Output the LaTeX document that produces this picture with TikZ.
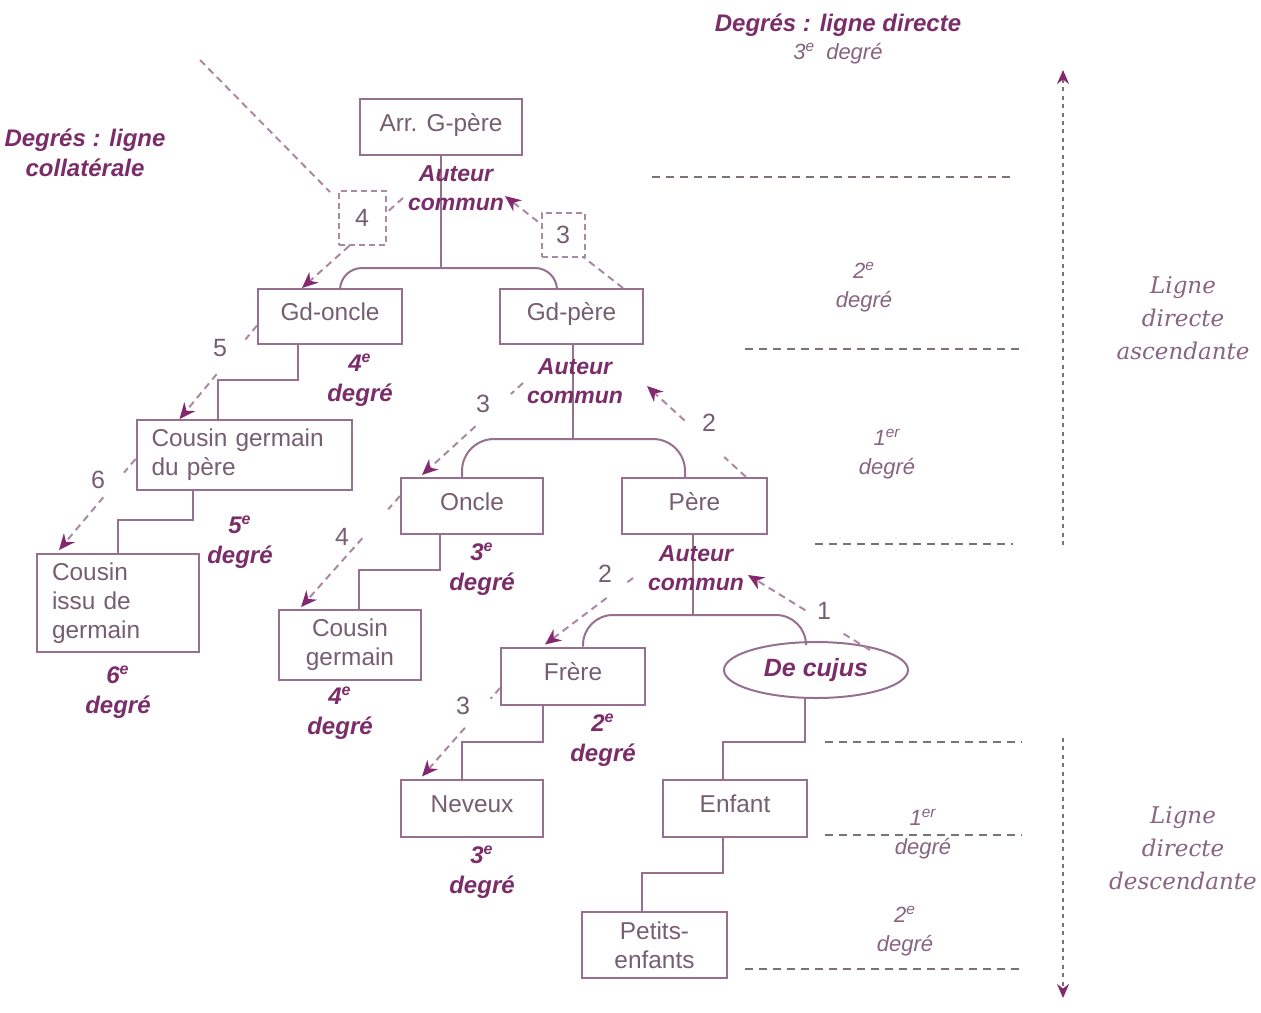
\documentclass[tikz,border=0pt]{standalone}
\usepackage{fontspec}
\setmainfont{Liberation Sans}
\newfontfamily\lignefont{DejaVu Serif}
\usetikzlibrary{arrows.meta,shapes.geometric,calc}
\definecolor{linecol}{RGB}{150,112,142}
\definecolor{txtcol}{RGB}{118,94,114}
\definecolor{labcol}{RGB}{122,45,104}
\definecolor{dashcol}{RGB}{168,138,162}
\definecolor{tipcol}{RGB}{132,40,112}
\definecolor{hdcol}{RGB}{125,112,125}
\definecolor{lightcol}{RGB}{135,100,128}
\begin{document}
\begin{tikzpicture}[x=0.5pt,y=-0.5pt,
  conn/.style={draw=linecol, line width=1pt},
  nbox/.style={draw=linecol, line width=1pt, text=txtcol, font=\fontsize{12.2}{14.5}\selectfont, inner sep=0pt, align=center},
  one/.style={text height=9pt, text depth=5pt},
  dl/.style={draw=dashcol, line width=1pt, dash pattern=on 3.5pt off 2.5pt},
  da/.style={dl, -{Stealth[length=8pt,width=7pt,color=tipcol]}},
  deg/.style={text=labcol, font=\bfseries\itshape\fontsize{12}{15}\selectfont, align=center},
  auteur/.style={text=labcol, font=\bfseries\itshape\fontsize{11.5}{14.5}\selectfont, align=center},
  num/.style={text=txtcol, font=\fontsize{12.5}{14}\selectfont},
  numbox/.style={draw=dashcol, line width=1pt, dash pattern=on 3pt off 2pt, fill=white, text=txtcol, font=\fontsize{12.5}{14}\selectfont, inner sep=0pt},
  hd/.style={draw=hdcol, line width=0.9pt, dash pattern=on 4pt off 3pt},
  vd/.style={draw=hdcol, line width=1pt, dash pattern=on 2pt off 2.2pt},
  rlab/.style={text=lightcol, font=\itshape\fontsize{11}{14.5}\selectfont, align=center},
  ligne/.style={text=lightcol, font=\lignefont\itshape\fontsize{11.5}{16.5}\selectfont, align=center}
]
\useasboundingbox (0,0) rectangle (1261,1012);

% ---------- boxes ----------
\node[nbox, one, minimum width=81pt, minimum height=28pt] (arr) at (441,127) {Arr. G-père};
\node[nbox, one, minimum width=72pt, minimum height=27.5pt] (gdo) at (330,316.5) {Gd-oncle};
\node[nbox, one, minimum width=71.5pt, minimum height=27.5pt] (gdp) at (571.5,316.5) {Gd-père};
\node[nbox, minimum height=35pt, text width=92.5pt, inner xsep=7.5pt, align=left] (cgp) at (244,455) {Cousin germain\\du père};
\node[nbox, one, minimum width=71pt, minimum height=28pt] (onc) at (472,506) {Oncle};
\node[nbox, one, minimum width=72.5pt, minimum height=28pt] (pere) at (694.5,506) {Père};
\node[nbox, minimum height=49pt, text width=66pt, inner xsep=7.5pt, align=left] (issu) at (118,603) {Cousin\\issu de\\germain};
\node[nbox, minimum width=71pt, minimum height=35pt] (cg) at (350,645) {Cousin\\germain};
\node[nbox, one, minimum width=72pt, minimum height=28.5pt] (fre) at (573,676) {Frère};
\node[nbox, ellipse, minimum width=92pt, minimum height=28pt, text=labcol, font=\bfseries\itshape\fontsize{12.5}{14}\selectfont] (dc) at (816,670) {De cujus};
\node[nbox, one, minimum width=71pt, minimum height=28.5pt] (nev) at (472,808) {Neveux};
\node[nbox, one, minimum width=72pt, minimum height=28.5pt] (enf) at (735,808) {Enfant};
\node[nbox, minimum width=72.5pt, minimum height=33pt] (pe) at (654.5,945) {Petits-\\enfants};

% ---------- family connectors ----------
\coordinate (br1) at (441,268);
\draw[conn] (arr.south) -- (br1);
\draw[conn, rounded corners=11pt] (gdo.north -| 340,0) |- (br1) -| (gdp.north -| 557,0);
\coordinate (br2) at (573,439);
\draw[conn] (gdp.south -| br2) -- (br2);
\draw[conn, rounded corners=16pt] (onc.north -| 462,0) |- (br2) -| (pere.north -| 685,0);
\coordinate (br3) at (693,615);
\draw[conn] (pere.south -| br3) -- (br3);
\draw[conn, rounded corners=15pt] (fre.north -| 583,0) |- (br3) -| (dc.north -| 806,0);

\draw[conn] (gdo.south -| 298,0) |- (218,380) -- (cgp.north -| 218,0);
\draw[conn] (cgp.south -| 193,0) |- (118,520) -- (issu.north);
\draw[conn] (onc.south -| 440,0) |- (359,570) -- (cg.north -| 359,0);
\draw[conn] (fre.south -| 543,0) |- (462,742) -- (nev.north -| 462,0);
\draw[conn] (dc.south -| 805,0) |- (723,742) -- (enf.north -| 723,0);
\draw[conn] (enf.south -| 723,0) |- (642,873) -- (pe.north -| 642,0);

% ---------- Auteur commun labels ----------
\node[auteur] (ac1) at (456,188) {Auteur\\commun};
\node[auteur] (ac2) at (575,381) {Auteur\\commun};
\node[auteur] (ac3) at (696,568) {Auteur\\commun};

% ---------- collateral dashed arrows ----------
\coordinate (s1) at ($(gdp.north east)+(-21,0)$);
\coordinate (e1) at (505,196);
\draw[da] (s1) -- (e1);
\node[numbox, minimum width=21.5pt, minimum height=22pt] (b3) at (563,235) {3};
\coordinate (s2) at (403,198);
\coordinate (e2) at ($(gdo.north west)+(45,0)$);
\coordinate (d0) at (200,60);
\coordinate (d1) at (330,192);
\draw[dl] (d0) -- (d1);
\draw[da] (s2) -- (e2);
\node[numbox, minimum width=23.5pt, minimum height=27pt] (b4) at (362,218) {4};
% 5
\coordinate (s3) at ($(gdo.west)+(0,9)$);
\coordinate (e3) at ($(cgp.north west)+(44,0)$);
\draw[dl] (s3) -- ($(s3)!0.15!(e3)$);
\draw[da] ($(s3)!0.52!(e3)$) -- (e3);
\node[num] (n5) at (220,348) {5};
% 6
\coordinate (s4) at ($(cgp.west)+(0,4)$);
\coordinate (e4) at ($(issu.north west)+(23,-3)$);
\draw[dl] (s4) -- ($(s4)!0.15!(e4)$);
\draw[da] ($(s4)!0.42!(e4)$) -- (e4);
\node[num] (n6) at (98,480) {6};
% 3 Gd-pere commun -> Oncle
\coordinate (s5) at (523,383);
\coordinate (e5) at ($(onc.north west)+(22,-2)$);
\draw[dl] (s5) -- ($(s5)!0.12!(e5)$);
\draw[da] ($(s5)!0.47!(e5)$) -- (e5);
\node[num] (n3a) at (483,404) {3};
% 2 Pere -> Gd-pere commun
\coordinate (s6) at ($(pere.north east)+(-22,0)$);
\coordinate (e6) at (647,386);
\draw[dl] (s6) -- ($(s6)!0.22!(e6)$);
\draw[da] ($(s6)!0.62!(e6)$) -- (e6);
\node[num] (n2a) at (709,423) {2};
% 4 Oncle -> Cousin germain
\coordinate (s7) at ($(onc.west)+(0,-10)$);
\coordinate (e7) at ($(cg.north west)+(23,-2)$);
\draw[dl] (s7) -- ($(s7)!0.12!(e7)$);
\draw[da] ($(s7)!0.38!(e7)$) -- (e7);
\node[num] (n4) at (342,537) {4};
% 2 Pere commun -> Frere
\coordinate (s8) at (633,578);
\coordinate (e8) at ($(fre.north west)+(45,-2)$);
\draw[dl] (s8) -- ($(s8)!0.08!(e8)$);
\draw[da] ($(s8)!0.3!(e8)$) -- (e8);
\node[num] (n2b) at (605,574) {2};
% 1 De cujus -> Pere commun
\coordinate (s9) at (870,650);
\coordinate (e9) at (748,575);
\draw[dl] (s9) -- ($(s9)!0.25!(e9)$);
\draw[da] ($(s9)!0.53!(e9)$) -- (e9);
\node[num] (n1) at (824,611) {1};
% 3 Frere -> Neveux
\coordinate (s10) at ($(fre.west)+(0,12)$);
\coordinate (e10) at ($(nev.north west)+(22,-2)$);
\draw[dl] (s10) -- ($(s10)!0.12!(e10)$);
\draw[da] ($(s10)!0.45!(e10)$) -- (e10);
\node[num] (n3b) at (463,706) {3};

% ---------- degree labels (collateral) ----------
\node[deg] (g1) at (360,380) {4\textsuperscript{e}\\degré};
\node[deg] (g2) at (240,542) {5\textsuperscript{e}\\degré};
\node[deg] (g3) at (118,692) {6\textsuperscript{e}\\degré};
\node[deg] (g4) at (482,569) {3\textsuperscript{e}\\degré};
\node[deg] (g5) at (340,713) {4\textsuperscript{e}\\degré};
\node[deg] (g6) at (603,740) {2\textsuperscript{e}\\degré};
\node[deg] (g7) at (482,872) {3\textsuperscript{e}\\degré};
\node[deg] (tcol) at (85,153) {Degrés : ligne\\collatérale};

% ---------- direct line ----------
\node[deg] (tdir) at (838,25) {Degrés : ligne directe};
\node[rlab] (r3) at (838,54) {3\textsuperscript{e}\enspace degré};
\node[rlab] (r2) at (864,287) {2\textsuperscript{e}\\degré};
\node[rlab] (r1) at (887,454) {1\textsuperscript{er}\\degré};
\node[rlab] (r1b) at (923,834) {1\textsuperscript{er}\\degré};
\node[rlab] (r2b) at (905,931) {2\textsuperscript{e}\\degré};

\draw[hd] (652,177) -- (1013,177);
\draw[hd] (745,349) -- (1025,349);
\draw[hd] (815,544) -- (1013,544);
\draw[hd] (825,742) -- (1022,742);
\draw[hd] (825,835) -- (1022,835);
\draw[hd] (745,969) -- (1022,969);

\coordinate (va0) at (1063,545);
\coordinate (va1) at (1063,70);
\coordinate (vd0) at (1063,738);
\coordinate (vd1) at (1063,998);
\draw[vd, -{Stealth[length=7pt,width=6pt,color=tipcol]}] (va0) -- (va1);
\draw[vd, -{Stealth[length=7pt,width=6pt,color=tipcol]}] (vd0) -- (vd1);

\node[ligne] (asc) at (1183,318) {Ligne\\directe\\ascendante};
\node[ligne] (desc) at (1183,848) {Ligne\\directe\\descendante};
\end{tikzpicture}
\end{document}
